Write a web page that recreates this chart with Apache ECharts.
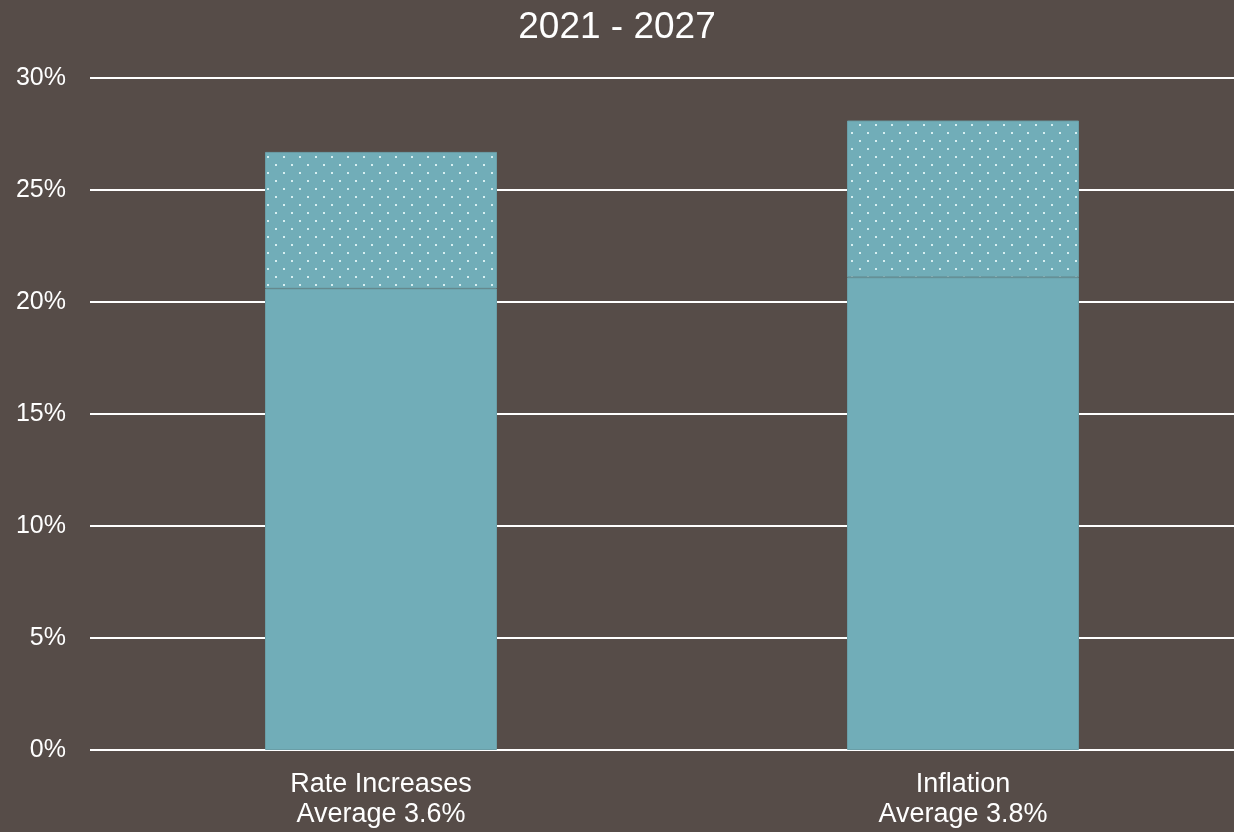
<!DOCTYPE html>
<html><head><meta charset="utf-8">
<script src="https://cdn.jsdelivr.net/npm/echarts@6/dist/echarts.min.js"></script>
<style>html,body{margin:0;padding:0;background:#564c48;}#c{width:1234px;height:832px;}</style>
</head><body><div id="c"></div>
<script>
const categories = ['Rate Increases\nAverage 3.6%', 'Inflation\nAverage 3.8%'];
const baseValues = [20.6, 21.1];
const extraValues = [6.1, 7.0];
const yTicks = [0, 5, 10, 15, 20, 25, 30];

const pc = document.createElement('canvas');
pc.width = 16; pc.height = 16;
const g = pc.getContext('2d');
g.fillStyle = '#71adb8'; g.fillRect(0,0,16,16);
g.fillStyle = '#d6eef0';
g.fillRect(3,4,2,2); g.fillRect(11,12,2,2);

const chart = echarts.init(document.getElementById('c'), null, {renderer:'canvas'});
chart.setOption({
  backgroundColor: '#564c48',
  animation: false,
  title: {text: '2021 - 2027', left: 'center', top: 4,
    textStyle: {color:'#ffffff', fontSize: 37, fontWeight: 'normal', fontFamily: 'Liberation Sans, Arial'}},
  grid: {left: 90, width: 1164, top: 78, height: 672, outerBoundsMode: 'none', containLabel: false},
  xAxis: {type:'category', data: categories,
    axisLine:{show:false}, axisTick:{show:false},
    axisLabel:{color:'#ffffff', fontSize: 27, lineHeight: 30, margin: 20, fontFamily:'Liberation Sans, Arial'}},
  yAxis: {type:'value', min: yTicks[0], max: yTicks[yTicks.length-1], interval: 5,
    axisLabel:{color:'#ffffff', fontSize: 25, margin: 24, formatter: '{value}%', fontFamily:'Liberation Sans, Arial'},
    splitLine:{lineStyle:{color:'#ffffff', width: 2}},
    axisLine:{show:false}, axisTick:{show:false}},
  series: [
    {type:'bar', stack:'a', data: baseValues, barWidth: 232,
      itemStyle:{color:'#71adb8', borderColor:'#6a9ea7', borderWidth: 1}},
    {type:'bar', stack:'a', data: extraValues, barWidth: 232,
      itemStyle:{color:{image: pc, repeat:'repeat'}, borderColor:'#6a9ea7', borderWidth: 1}}
  ]
});
</script></body></html>
